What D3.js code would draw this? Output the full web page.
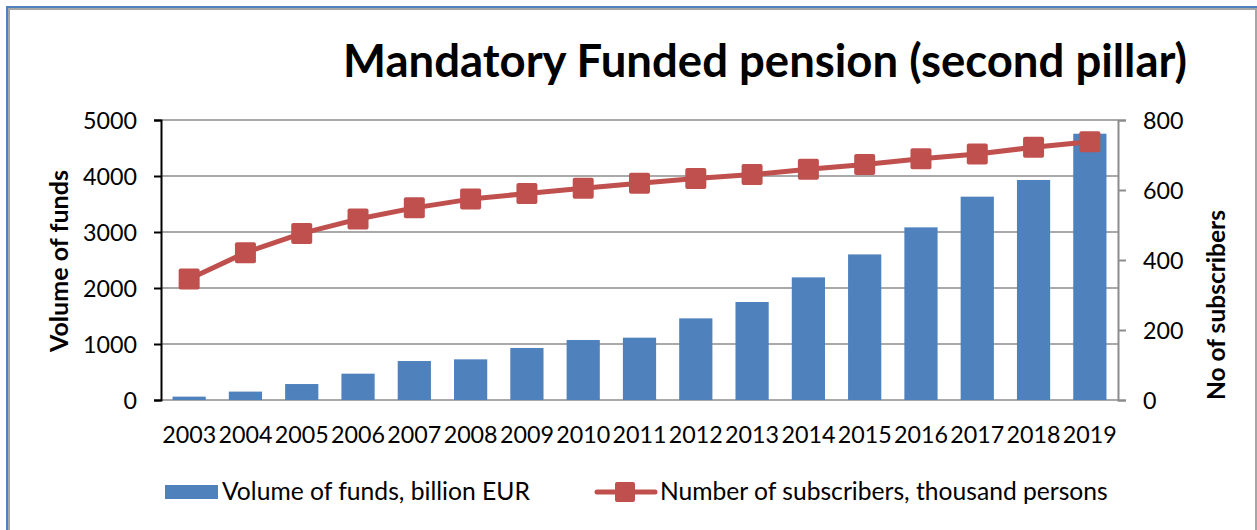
<!DOCTYPE html>
<html>
<head>
<meta charset="utf-8">
<script src="https://cdn.jsdelivr.net/npm/d3@7"></script>
<style>
  html, body { margin: 0; padding: 0; background: #fff; }
  svg { display: block; }
  text { font-family: Lato, "Open Sans", sans-serif; fill: #000; }
</style>
</head>
<body>
<svg id="chart" width="1257" height="530"></svg>
<script>
// ---- data ----
const years = ["2003","2004","2005","2006","2007","2008","2009","2010","2011","2012","2013","2014","2015","2016","2017","2018","2019"];
const volumeOfFunds = [60, 150, 285, 470, 696, 726, 929, 1071, 1113, 1458, 1750, 2190, 2600, 3083, 3631, 3929, 4755];
const subscribers = [346, 421, 476, 517, 549, 574, 590, 605, 619, 633, 644, 659, 673, 689, 703, 722, 738];
const leftTicks = [0, 1000, 2000, 3000, 4000, 5000];
const rightTicks = [0, 200, 400, 600, 800];
const titleText = "Mandatory Funded pension (second pillar)";
const leftAxisTitle = "Volume of funds";
const rightAxisTitle = "No of subscribers";
const legendBars = "Volume of funds, billion EUR";
const legendLine = "Number of subscribers, thousand persons";

// ---- layout ----
const W = 1257, H = 530;
const plot = { left: 161, right: 1118, top: 120, bottom: 400 };
const barColor = "#4F81BD", lineColor = "#C0504D", gridColor = "#8C8C8C";

const svg = d3.select("#chart");

function fit(sel, target, base) {
  const n = sel.node();
  const w = n.getComputedTextLength();
  sel.style("font-size", (base * target / w).toFixed(2) + "px");
}

// frame
svg.append("rect").attr("x", 9).attr("y", 9).attr("width", 1247).attr("height", 560)
  .attr("fill", "none").attr("stroke", "#A6A6A6").attr("stroke-width", 2);
svg.append("line").attr("x1", 7).attr("x2", 7).attr("y1", 6).attr("y2", H)
  .attr("stroke", barColor).attr("stroke-width", 2);
svg.append("line").attr("x1", 6).attr("x2", W).attr("y1", 7).attr("y2", 7)
  .attr("stroke", barColor).attr("stroke-width", 2);

// scales
const x = d3.scaleBand().domain(years).range([plot.left, plot.right])
  .paddingInner(0.41).paddingOuter(0.205);
const yL = d3.scaleLinear().domain([0, 5000]).range([plot.bottom, plot.top]);
const yR = d3.scaleLinear().domain([0, 800]).range([plot.bottom, plot.top]);

// gridlines
svg.append("g").selectAll("line").data(leftTicks).join("line")
  .attr("x1", plot.left).attr("x2", plot.right)
  .attr("y1", d => yL(d)).attr("y2", d => yL(d))
  .attr("stroke", gridColor).attr("stroke-width", 1.5);

// bars
svg.append("g").selectAll("rect").data(volumeOfFunds).join("rect")
  .attr("x", (d, i) => x(years[i]))
  .attr("width", x.bandwidth())
  .attr("y", d => yL(d))
  .attr("height", d => yL(0) - yL(d))
  .attr("fill", barColor);

// measure digit size for tick labels: "5000" ≈ 54px wide
const probe = svg.append("text").style("font-size", "20px").text("5000");
const tickFont = 20 * 54 / probe.node().getComputedTextLength();
probe.remove();

// left axis
const gL = svg.append("g").attr("transform", `translate(${plot.left},0)`)
  .call(d3.axisLeft(yL).tickValues(leftTicks).tickSize(7).tickPadding(17).tickFormat(d3.format("d")));
gL.select(".domain").attr("stroke", "#000").attr("stroke-width", 2);
gL.selectAll(".tick line").attr("stroke", "#000").attr("stroke-width", 2);
gL.selectAll(".tick text").style("font-family", "Lato, sans-serif").style("font-size", tickFont + "px")
  .attr("dy", "0.36em").attr("fill", "#000");

// right axis
const gR = svg.append("g").attr("transform", `translate(${plot.right},0)`)
  .call(d3.axisRight(yR).tickValues(rightTicks).tickSize(8).tickPadding(17).tickFormat(d3.format("d")));
gR.select(".domain").attr("stroke", gridColor).attr("stroke-width", 2);
gR.selectAll(".tick line").attr("stroke", gridColor).attr("stroke-width", 2);
gR.selectAll(".tick text").style("font-family", "Lato, sans-serif").style("font-size", tickFont + "px")
  .attr("dy", "0.36em").attr("fill", "#000");

// x axis labels
const gX = svg.append("g").attr("transform", `translate(0,${plot.bottom})`)
  .call(d3.axisBottom(x).tickSize(0).tickPadding(26));
gX.select(".domain").remove();
gX.selectAll(".tick text").style("font-family", "Lato, sans-serif").style("font-size", tickFont + "px").attr("fill", "#000");

// line series
const line = d3.line().x((d, i) => x(years[i]) + x.bandwidth() / 2).y(d => yR(d));
svg.append("path").datum(subscribers).attr("d", line)
  .attr("fill", "none").attr("stroke", lineColor).attr("stroke-width", 5).attr("stroke-linejoin", "round");
const ms = 21;
svg.append("g").selectAll("rect").data(subscribers).join("rect")
  .attr("x", (d, i) => x(years[i]) + x.bandwidth() / 2 - ms / 2)
  .attr("y", d => yR(d) - ms / 2)
  .attr("width", ms).attr("height", ms).attr("rx", 2)
  .attr("fill", lineColor);

// title
const t = svg.append("text").attr("x", 343).attr("y", 77).attr("font-weight", "bold")
  .style("font-size", "40px").text(titleText);
fit(t, 844, 40);

// axis titles
const lt = svg.append("text").attr("transform", "translate(68,261) rotate(-90)")
  .attr("text-anchor", "middle").attr("font-weight", "bold").style("font-size", "22px").text(leftAxisTitle);
fit(lt, 182, 22);
const rt = svg.append("text").attr("transform", "translate(1225,305) rotate(-90)")
  .attr("text-anchor", "middle").attr("font-weight", "bold").style("font-size", "22px").text(rightAxisTitle);
fit(rt, 190, 22);

// legend
const lg = svg.append("g");
lg.append("rect").attr("x", 165).attr("y", 485).attr("width", 53).attr("height", 14).attr("fill", barColor);
const l1 = lg.append("text").attr("x", 222).attr("y", 500).style("font-size", "22px").text(legendBars);
fit(l1, 308, 22);
lg.append("line").attr("x1", 597).attr("x2", 655).attr("y1", 492).attr("y2", 492)
  .attr("stroke", lineColor).attr("stroke-width", 5).attr("stroke-linecap", "round");
lg.append("rect").attr("x", 625 - 10).attr("y", 482).attr("width", 20).attr("height", 20).attr("rx", 2).attr("fill", lineColor);
const l2 = lg.append("text").attr("x", 660).attr("y", 500).style("font-size", "22px").text(legendLine);
fit(l2, 448, 22);
</script>
</body>
</html>
